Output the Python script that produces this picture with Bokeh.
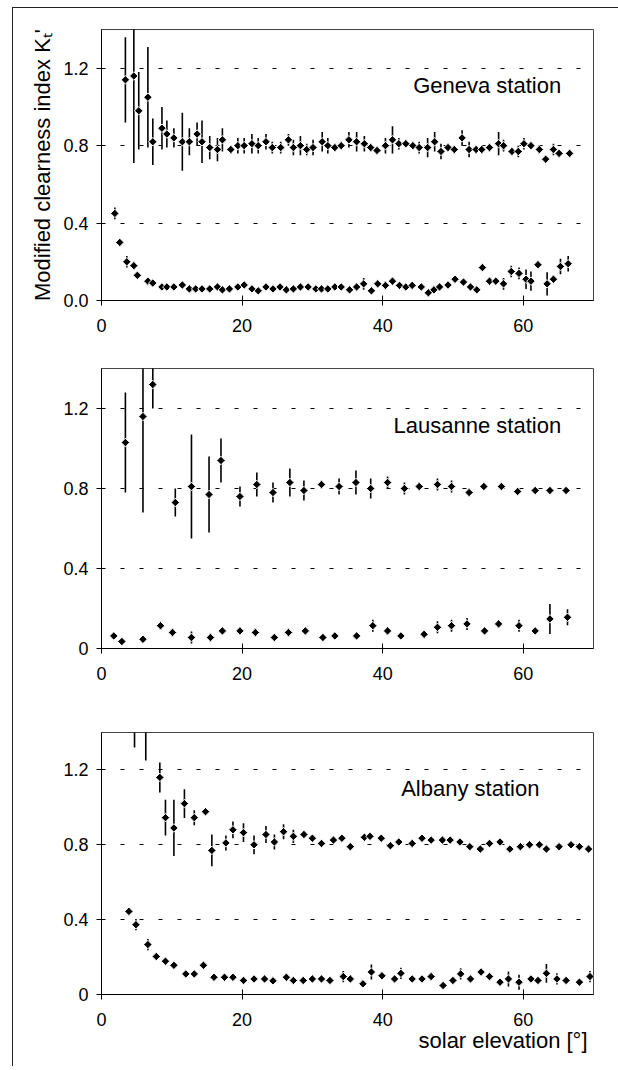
import math
from bokeh.plotting import figure
from bokeh.models import Range1d, FixedTicker, Label, ColumnDataSource, Title
from bokeh.layouts import column
from bokeh.embed import file_html
from bokeh.resources import INLINE

# ---------------- data ----------------
x_ticks = [0, 20, 40, 60]
y_ticks = [0, 0.4, 0.8, 1.2]
grid_ticks = [0.4, 0.8, 1.2]

# Geneva station
gen_up_x = [3.4, 4.6, 5.3, 6.6, 7.3, 8.6, 9.3, 10.3, 11.5, 12.5, 13.6, 14.3, 15.4, 16.5, 17.2,
            18.4, 19.4, 20.3, 21.4, 22.3, 23.4, 24.3, 25.5, 26.6, 27.3, 28.3, 29.2, 30.1, 31.4, 32.2,
            33.2, 34.1, 35.2, 36.3, 37.4, 38.3, 39.2, 40.4, 41.4, 42.3, 43.3, 44.3, 45.2, 46.4, 47.4,
            48.3, 49.3, 50.2, 51.3, 52.3, 53.3, 54.1, 55.2, 56.5, 57.2, 58.4, 59.3, 60.1, 61.1, 62.3,
            63.2, 64.3, 65.1, 66.6]
gen_up_y = [1.14, 1.16, 0.98, 1.05, 0.82, 0.89, 0.86, 0.84, 0.82, 0.82, 0.86, 0.82, 0.79, 0.78, 0.83,
            0.78, 0.80, 0.80, 0.81, 0.80, 0.82, 0.79, 0.79, 0.83, 0.79, 0.80, 0.78, 0.79, 0.82, 0.80,
            0.79, 0.80, 0.83, 0.82, 0.81, 0.79, 0.775, 0.80, 0.83, 0.81, 0.81, 0.80, 0.79, 0.79, 0.82,
            0.77, 0.79, 0.78, 0.84, 0.78, 0.78, 0.78, 0.79, 0.81, 0.80, 0.77, 0.77, 0.81, 0.80, 0.78,
            0.73, 0.78, 0.76, 0.76]
gen_up_e = [0.22, 0.45, 0.20, 0.26, 0.12, 0.11, 0.07, 0.05, 0.15, 0.07, 0.06, 0.11, 0.06, 0.06, 0.06,
            0.02, 0.04, 0.04, 0.05, 0.04, 0.04, 0.03, 0.03, 0.03, 0.04, 0.05, 0.03, 0.04, 0.05, 0.04,
            0.02, 0.02, 0.04, 0.05, 0.04, 0.02, 0.02, 0.04, 0.07, 0.03, 0.02, 0.02, 0.03, 0.05, 0.05,
            0.04, 0.02, 0.02, 0.04, 0.04, 0.02, 0.02, 0.02, 0.06, 0.03, 0.02, 0.03, 0.03, 0.02, 0.02,
            0.02, 0.03, 0.02, 0.02]
gen_lo_x = [1.9, 2.6, 3.6, 4.6, 5.1, 6.6, 7.3, 8.6, 9.3, 10.3, 11.5, 12.5, 13.4, 14.3, 15.4,
            16.5, 17.2, 18.2, 19.4, 20.3, 21.4, 22.3, 23.4, 24.4, 25.4, 26.3, 27.3, 28.3, 29.4, 30.5,
            31.3, 32.2, 33.2, 34.1, 35.3, 36.3, 37.3, 38.4, 39.3, 40.4, 41.4, 42.4, 43.3, 44.2, 45.5,
            46.5, 47.3, 48.1, 49.3, 50.3, 51.5, 52.5, 53.4, 54.2, 55.2, 56.1, 57.2, 58.3, 59.4, 60.4,
            61.1, 62.1, 63.4, 64.3, 65.3, 66.4]
gen_lo_y = [0.45, 0.30, 0.20, 0.18, 0.13, 0.10, 0.09, 0.07, 0.07, 0.07, 0.08, 0.06, 0.06, 0.06, 0.06,
            0.07, 0.055, 0.06, 0.07, 0.08, 0.06, 0.05, 0.07, 0.06, 0.07, 0.055, 0.06, 0.07, 0.07, 0.06,
            0.06, 0.06, 0.07, 0.07, 0.055, 0.07, 0.086, 0.05, 0.086, 0.078, 0.10, 0.078, 0.07, 0.078, 0.07,
            0.04, 0.055, 0.07, 0.08, 0.11, 0.095, 0.07, 0.055, 0.17, 0.10, 0.10, 0.086, 0.15, 0.14, 0.11,
            0.10, 0.185, 0.086, 0.11, 0.176, 0.19]
gen_lo_e = [0.03, 0.01, 0.03, 0.02, 0.01, 0.01, 0.01, 0.01, 0.01, 0.01, 0.01, 0.01, 0.01, 0.01, 0.01,
            0.01, 0.01, 0.01, 0.01, 0.01, 0.01, 0.01, 0.01, 0.01, 0.01, 0.01, 0.01, 0.01, 0.01, 0.01,
            0.01, 0.01, 0.01, 0.01, 0.01, 0.02, 0.03, 0.01, 0.02, 0.02, 0.02, 0.01, 0.01, 0.01, 0.01,
            0.02, 0.02, 0.02, 0.02, 0.02, 0.01, 0.01, 0.01, 0.01, 0.02, 0.02, 0.03, 0.03, 0.03, 0.05,
            0.05, 0.02, 0.06, 0.02, 0.04, 0.04]

# Lausanne station
lau_up_x = [3.4, 5.9, 7.3, 10.5, 12.8, 15.3, 17.0, 19.7, 22.1, 24.4, 26.8, 28.8, 31.3, 33.8,
            36.2, 38.3, 40.7, 43.1, 45.2, 47.8, 49.8, 52.3, 54.4, 56.9, 59.2, 61.7, 63.8, 66.1]
lau_up_y = [1.03, 1.16, 1.32, 0.73, 0.81, 0.77, 0.94, 0.76, 0.82, 0.78, 0.83, 0.79, 0.82, 0.81,
            0.83, 0.80, 0.83, 0.80, 0.81, 0.82, 0.81, 0.78, 0.81, 0.81, 0.785, 0.79, 0.79, 0.79]
lau_up_e = [0.25, 0.48, 0.12, 0.07, 0.26, 0.19, 0.11, 0.05, 0.06, 0.05, 0.07, 0.05, 0.02, 0.04,
            0.06, 0.05, 0.03, 0.03, 0.02, 0.03, 0.03, 0.02, 0.01, 0.01, 0.01, 0.01, 0.01, 0.01]
lau_lo_x = [1.75, 2.9, 5.9, 8.4, 10.1, 12.8, 15.5, 17.2, 19.7, 21.9, 24.6, 26.6, 29.0, 31.5, 33.2,
            36.3, 38.6, 40.7, 42.6, 45.9, 47.8, 49.8, 52.0, 54.5, 56.5, 59.4, 61.7, 63.8, 66.3]
lau_lo_y = [0.063, 0.035, 0.046, 0.114, 0.08, 0.055, 0.055, 0.088, 0.088, 0.08, 0.055, 0.08, 0.088,
            0.055, 0.063, 0.063, 0.114, 0.088, 0.063, 0.071, 0.106, 0.114, 0.123, 0.088, 0.123,
            0.114, 0.088, 0.148, 0.156]
lau_lo_e = [0.01, 0.01, 0.01, 0.02, 0.02, 0.03, 0.02, 0.01, 0.02, 0.02, 0.015, 0.02, 0.02, 0.01,
            0.01, 0.01, 0.03, 0.02, 0.01, 0.02, 0.03, 0.03, 0.03, 0.01, 0.02, 0.03, 0.01, 0.075, 0.04]

# Albany station
alb_up_x = [4.7, 6.3, 8.3, 9.1, 10.3, 11.8, 13.2, 14.8, 15.7, 17.7, 18.7, 20.2, 21.7, 23.4, 24.6,
            25.9, 27.3, 28.8, 30.0, 31.3, 33.0, 34.2, 35.4, 37.4, 38.2, 39.8, 41.1, 42.3, 44.2, 45.6,
            46.9, 48.5, 49.6, 51.0, 52.4, 53.9, 55.2, 56.7, 58.1, 59.6, 60.9, 62.3, 63.3, 65.1, 66.8,
            68.0, 69.3]
alb_up_y = [1.45, 1.45, 1.16, 0.945, 0.89, 1.02, 0.945, 0.977, 0.77, 0.81, 0.88, 0.865, 0.80, 0.855,
            0.815, 0.87, 0.845, 0.855, 0.835, 0.807, 0.825, 0.835, 0.79, 0.84, 0.845, 0.835, 0.795,
            0.815, 0.807, 0.835, 0.825, 0.825, 0.825, 0.815, 0.79, 0.777, 0.807, 0.815, 0.777, 0.79,
            0.80, 0.80, 0.777, 0.79, 0.80, 0.79, 0.777]
alb_up_e = [0.13, 0.20, 0.08, 0.095, 0.15, 0.077, 0.04, 0.015, 0.085, 0.04, 0.045, 0.05, 0.05, 0.045,
            0.04, 0.04, 0.035, 0.01, 0.01, 0.01, 0.01, 0.01, 0.02, 0.01, 0.01, 0.01, 0.01, 0.01, 0.02,
            0.01, 0.01, 0.01, 0.01, 0.01, 0.01, 0.01, 0.01, 0.01, 0.01, 0.01, 0.01, 0.01, 0.01, 0.01,
            0.01, 0.01, 0.01]
alb_lo_x = [3.9, 4.9, 6.6, 7.8, 9.1, 10.3, 12.0, 13.2, 14.5, 16.0, 17.5, 18.7, 20.2, 21.7, 23.2,
            24.4, 26.3, 27.3, 28.7, 30.0, 31.3, 32.5, 34.4, 35.4, 37.2, 38.4, 39.9, 41.7, 42.6, 44.2,
            45.6, 46.9, 48.6, 50.0, 51.1, 52.5, 54.0, 55.2, 56.7, 57.9, 59.4, 61.1, 62.1, 63.3, 64.8,
            66.1, 68.0, 69.5]
alb_lo_y = [0.444, 0.373, 0.267, 0.203, 0.178, 0.156, 0.11, 0.11, 0.156, 0.092, 0.092, 0.092, 0.075,
            0.083, 0.083, 0.073, 0.092, 0.075, 0.075, 0.083, 0.083, 0.075, 0.096, 0.083, 0.057, 0.12,
            0.10, 0.083, 0.113, 0.083, 0.083, 0.096, 0.048, 0.075, 0.11, 0.083, 0.12, 0.096, 0.066,
            0.083, 0.066, 0.083, 0.075, 0.113, 0.083, 0.075, 0.066, 0.096]
alb_lo_e = [0.01, 0.03, 0.03, 0.01, 0.01, 0.01, 0.01, 0.01, 0.01, 0.01, 0.01, 0.01, 0.01, 0.01, 0.01,
            0.01, 0.02, 0.01, 0.01, 0.01, 0.01, 0.01, 0.03, 0.02, 0.01, 0.04, 0.02, 0.01, 0.03, 0.01,
            0.01, 0.02, 0.01, 0.01, 0.03, 0.01, 0.02, 0.02, 0.02, 0.04, 0.04, 0.01, 0.01, 0.05, 0.03,
            0.01, 0.01, 0.03]

FONT = "Liberation Sans"


def make_panel(height, top, bottom, up, lo, station, station_pos, zero_label, ylabel=None):
    p = figure(width=605, height=height, title=None,
               x_range=Range1d(0, 70), y_range=Range1d(0, 1.4),
               output_backend="svg", toolbar_location=None,
               min_border_left=88, min_border_right=25,
               min_border_top=top, min_border_bottom=bottom)
    p.background_fill_color = "white"
    p.border_fill_color = "white"
    p.outline_line_color = "#444444"
    p.outline_line_width = 1

    p.xgrid.visible = False
    p.ygrid.ticker = FixedTicker(ticks=grid_ticks)
    p.ygrid.grid_line_color = "black"
    p.ygrid.grid_line_width = 1
    p.ygrid.grid_line_dash = "4 15"

    xa = p.xaxis[0]
    xa.ticker = FixedTicker(ticks=x_ticks)
    xa.major_tick_in = 5
    xa.major_tick_out = 5
    xa.minor_tick_line_color = None
    xa.major_label_standoff = 13
    xa.axis_line_color = "black"
    xa.major_tick_line_color = "black"
    xa.major_label_text_font = FONT
    xa.major_label_text_font_size = "18px"
    xa.major_label_text_color = "black"

    ya = p.yaxis[0]
    ya.ticker = FixedTicker(ticks=y_ticks)
    ya.major_tick_in = 0
    ya.major_tick_out = 5
    ya.minor_tick_line_color = None
    ya.major_label_standoff = 8
    ya.axis_line_color = "black"
    ya.major_tick_line_color = "black"
    ya.major_label_text_font = FONT
    ya.major_label_text_font_size = "18px"
    ya.major_label_text_color = "black"
    ya.major_label_overrides = {0: zero_label, 0.4: "0.4", 0.8: "0.8", 1.2: "1.2"}
    if ylabel:
        ya.axis_label = ylabel
        ya.axis_label_text_font = FONT
        ya.axis_label_text_font_size = "22px"
        ya.axis_label_text_font_style = "normal"
        ya.axis_label_text_color = "black"
        ya.axis_label_standoff = 5

    for (xs, ys, es) in (up, lo):
        src = ColumnDataSource(dict(x=xs, y=ys,
                                    lo=[y - e for y, e in zip(ys, es)],
                                    hi=[y + e for y, e in zip(ys, es)]))
        p.segment(x0="x", y0="lo", x1="x", y1="hi", source=src,
                  line_color="black", line_width=1.6)
        p.scatter(x="x", y="y", source=src, marker="square", size=6, angle=math.pi / 4,
                  fill_color="black", line_color="white", line_width=1)

    p.add_layout(Label(x=station_pos[0], y=station_pos[1], text=station,
                       text_align="right", text_baseline="middle",
                       text_font=FONT, text_font_size="22px", text_color="black"))
    return p


p1 = make_panel(342, 21, 50,
                (gen_up_x, gen_up_y, gen_up_e), (gen_lo_x, gen_lo_y, gen_lo_e),
                "Geneva station", (65.4, 1.11), "0.0",
                ylabel="Modified clearness index K\u209c'")
p2 = make_panel(350, 18, 52,
                (lau_up_x, lau_up_y, lau_up_e), (lau_lo_x, lau_lo_y, lau_lo_e),
                "Lausanne station", (65.4, 1.115), "0")
p3 = make_panel(366, 32, 72,
                (alb_up_x, alb_up_y, alb_up_e), (alb_lo_x, alb_lo_y, alb_lo_e),
                "Albany station", (62.3, 1.10), "0")
xtitle = Title(text="solar elevation [\u00b0]", align="right", offset=6, standoff=-5,
               text_font=FONT, text_font_size="22px", text_font_style="normal",
               text_color="black")
p3.add_layout(xtitle, "below")

layout = column(p1, p2, p3, spacing=0, margin=(7, 0, 0, 12),
                styles={"border-left": "1px solid #222", "border-top": "1px solid #222"})

open("out.html", "w").write(file_html(layout, INLINE))
